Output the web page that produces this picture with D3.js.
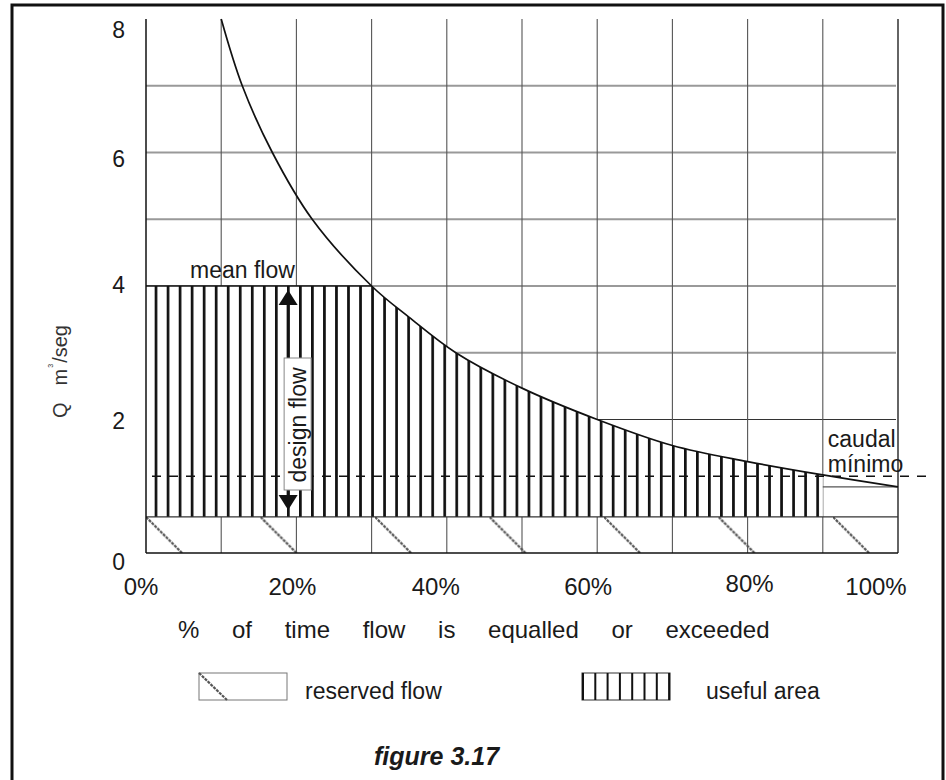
<!DOCTYPE html>
<html>
<head>
<meta charset="utf-8">
<script src="https://cdn.jsdelivr.net/npm/d3@7"></script>
<style>
  html, body { margin: 0; padding: 0; background: #fff; }
  svg text { font-family: "Liberation Sans", Arial, Helvetica, sans-serif; fill: #1a1a1a; }
</style>
</head>
<body>
<script>
// ---------- data ----------
const pctTicks = [0, 20, 40, 60, 80, 100];
const qTicks = [0, 2, 4, 6, 8];
const gridPct = [10, 20, 30, 40, 50, 60, 70, 80, 90, 100];
const gridQGray = [3, 4, 5, 6, 7];
const gridQBlack = [2];
const curvePct = [10, 12.8, 16.8, 22.1, 30, 35, 41.2, 50, 60, 70, 80, 90, 100];
const curveQ   = [8.0, 7.0, 6.0, 5.0, 4.0, 3.53, 3.0, 2.47, 2.0, 1.61, 1.37, 1.17, 0.99];
const meanFlow = 4;
const reservedFlow = 0.54;
const minFlow = 1.15;
const usefulEndPct = 90;
const designPct = 18.9;
const xTitleText = "% of time flow is equalled or exceeded";
const legendLabels = ["reserved flow", "useful area"];
const figureLabel = "figure 3.17";

// ---------- setup ----------
const W = 946, H = 780;
const svg = d3.select("body").append("svg").attr("width", W).attr("height", H);

const x = d3.scaleLinear().domain([0, 100]).range([146, 898]);
const y = d3.scaleLinear().domain([0, 8]).range([553, 19]);

const defs = svg.append("defs");
// vertical hatch pattern (useful area)
const vp = defs.append("pattern").attr("id", "vhatch")
  .attr("patternUnits", "userSpaceOnUse")
  .attr("x", 156 - 1.35).attr("y", 0).attr("width", 12.03).attr("height", 20);
vp.append("rect").attr("x", 0).attr("y", 0).attr("width", 12.03).attr("height", 20).attr("fill", "#fff");
vp.append("rect").attr("x", 0).attr("y", 0).attr("width", 2.7).attr("height", 20).attr("fill", "#111");

// diagonal pattern (reserved flow)
const bandTop = y(reservedFlow), bandBot = y(0), bandH = bandBot - bandTop;
const dp = defs.append("pattern").attr("id", "dhatch")
  .attr("patternUnits", "userSpaceOnUse")
  .attr("x", x(0)).attr("y", bandTop).attr("width", 114.5).attr("height", bandH);
dp.append("line").attr("x1", 0).attr("y1", 0).attr("x2", bandH).attr("y2", bandH)
  .attr("stroke", "#555").attr("stroke-width", 2.2).attr("stroke-dasharray", "3,1");

// clip for useful area
defs.append("clipPath").attr("id", "usefulClip").append("rect")
  .attr("x", x(0)).attr("y", y(meanFlow))
  .attr("width", x(usefulEndPct) - x(0)).attr("height", y(reservedFlow) - y(meanFlow));

// ---------- frame ----------
svg.append("rect").attr("x", 12).attr("y", 5).attr("width", 931).attr("height", 820)
  .attr("fill", "none").attr("stroke", "#111").attr("stroke-width", 3);

// ---------- grid ----------
svg.append("g").selectAll("line").data(gridQGray).join("line")
  .attr("x1", x(0)).attr("x2", x(100) - 2)
  .attr("y1", d => y(d)).attr("y2", d => y(d))
  .attr("stroke", "#999").attr("stroke-width", 2.2);
svg.append("g").selectAll("line").data(gridQBlack).join("line")
  .attr("x1", x(0)).attr("x2", x(100) - 2)
  .attr("y1", d => y(d)).attr("y2", d => y(d))
  .attr("stroke", "#333").attr("stroke-width", 1);
svg.append("g").selectAll("line").data(gridPct).join("line")
  .attr("x1", d => x(d)).attr("x2", d => x(d))
  .attr("y1", y(8)).attr("y2", y(0))
  .attr("stroke", d => d === 100 ? "#111" : "#555").attr("stroke-width", d => d === 100 ? 1.3 : 1.1);

// ---------- reserved flow band ----------
svg.append("rect").attr("x", x(0)).attr("y", bandTop)
  .attr("width", x(100) - x(0)).attr("height", bandH)
  .attr("fill", "url(#dhatch)");

// ---------- useful area ----------
const pts = curvePct.map((p, i) => [p, curveQ[i]]);
const curveType = d3.curveCatmullRom.alpha(0.5);
const areaGen = d3.area().x(d => x(d[0])).y0(y(reservedFlow)).y1(d => y(d[1])).curve(curveType);
const ua = svg.append("g").attr("clip-path", "url(#usefulClip)");
ua.append("rect").attr("x", x(0)).attr("y", y(meanFlow))
  .attr("width", x(curvePct[0]) - x(0) + 1).attr("height", y(reservedFlow) - y(meanFlow))
  .attr("fill", "url(#vhatch)");
ua.append("path").datum(pts).attr("d", areaGen).attr("fill", "url(#vhatch)");

// box 90%-100%
svg.append("line").attr("x1", x(usefulEndPct)).attr("x2", x(100))
  .attr("y1", y(curveQ[curveQ.length - 1])).attr("y2", y(curveQ[curveQ.length - 1]))
  .attr("stroke", "#555").attr("stroke-width", 1.2);

// mean flow line
svg.append("line").attr("x1", x(0)).attr("x2", x(30))
  .attr("y1", y(meanFlow)).attr("y2", y(meanFlow))
  .attr("stroke", "#111").attr("stroke-width", 1.3);

// reserved top line & axes
svg.append("line").attr("x1", x(0)).attr("x2", x(100))
  .attr("y1", y(reservedFlow)).attr("y2", y(reservedFlow))
  .attr("stroke", "#333").attr("stroke-width", 1.2);
svg.append("line").attr("x1", x(0)).attr("x2", x(100))
  .attr("y1", y(0)).attr("y2", y(0))
  .attr("stroke", "#111").attr("stroke-width", 1.5);
svg.append("line").attr("x1", x(0)).attr("x2", x(0))
  .attr("y1", y(8)).attr("y2", y(0))
  .attr("stroke", "#111").attr("stroke-width", 1.5);

// ---------- flow duration curve ----------
const lineGen = d3.line().x(d => x(d[0])).y(d => y(d[1])).curve(curveType);
svg.append("path").datum(pts).attr("d", lineGen)
  .attr("fill", "none").attr("stroke", "#111").attr("stroke-width", 1.7);

// ---------- caudal minimo dashed line ----------
svg.append("line").attr("x1", x(0) + 6).attr("x2", x(100) + 28)
  .attr("y1", y(minFlow)).attr("y2", y(minFlow))
  .attr("stroke", "#111").attr("stroke-width", 1.4).attr("stroke-dasharray", "9,8");

// ---------- design flow arrow ----------
const ax = x(designPct);
const topTip = y(meanFlow) + 4, botTip = y(reservedFlow) - 7;
svg.append("line").attr("x1", ax).attr("x2", ax).attr("y1", topTip + 10).attr("y2", botTip - 10)
  .attr("stroke", "#111").attr("stroke-width", 3);
svg.append("path").attr("d", `M${ax},${topTip} L${ax - 9.5},${topTip + 15} L${ax + 9.5},${topTip + 15} Z`).attr("fill", "#111");
svg.append("path").attr("d", `M${ax},${botTip} L${ax - 9.5},${botTip - 15} L${ax + 9.5},${botTip - 15} Z`).attr("fill", "#111");
svg.append("rect").attr("x", ax - 4).attr("y", 358).attr("width", 27).attr("height", 132)
  .attr("fill", "#fff").attr("stroke", "#888").attr("stroke-width", 1);
svg.append("text").attr("transform", `translate(${ax + 18},${425}) rotate(-90)`)
  .attr("text-anchor", "middle").style("font-size", "23px").text("design flow");

// ---------- labels ----------
svg.append("text").attr("x", 190).attr("y", 278).style("font-size", "23px").text("mean flow");
const cm = svg.append("text").style("font-size", "23px");
cm.append("tspan").attr("x", x(90) + 5).attr("y", 447).text("caudal");
cm.append("tspan").attr("x", x(90) + 5).attr("y", 472).text("mínimo");

// y tick labels
const yNudge = {0: 17, 2: 9.5, 4: 6.5, 6: 14.5, 8: 19};
svg.append("g").selectAll("text").data(qTicks).join("text")
  .attr("x", 125).attr("y", d => y(d) + yNudge[d])
  .attr("text-anchor", "end").style("font-size", "23px").text(d => d);

// x tick labels
const xNudge = {0: -5, 20: -4, 40: -11, 60: -9, 80: 2, 100: -22};
const xNudgeY = {80: -3};
svg.append("g").selectAll("text").data(pctTicks).join("text")
  .attr("x", d => x(d) + xNudge[d]).attr("y", d => 595 + (xNudgeY[d] || 0))
  .attr("text-anchor", "middle").style("font-size", "24px").text(d => d + "%");

// y title
const yt = svg.append("text").attr("transform", "translate(67,418) rotate(-90)")
  .style("font-size", "20px").style("fill", "#333");
yt.append("tspan").text("Q");
yt.append("tspan").attr("dx", 17).text("m");
yt.append("tspan").attr("dx", 1).attr("dy", -14).style("font-size", "7px").text("3");
yt.append("tspan").attr("dx", 1).attr("dy", 14).text("/seg");

// x title
svg.append("text").attr("x", 178).attr("y", 638)
  .style("font-size", "24px").style("word-spacing", "26px").text(xTitleText);

// legend
svg.append("rect").attr("x", 199).attr("y", 673).attr("width", 88).attr("height", 27)
  .attr("fill", "#fff").attr("stroke", "#777").attr("stroke-width", 1);
svg.append("line").attr("x1", 199).attr("y1", 673).attr("x2", 227).attr("y2", 700)
  .attr("stroke", "#555").attr("stroke-width", 2.2).attr("stroke-dasharray", "3,1");
svg.append("text").attr("x", 305).attr("y", 699).style("font-size", "23px").text(legendLabels[0]);

svg.append("rect").attr("x", 582).attr("y", 673).attr("width", 88).attr("height", 27)
  .attr("fill", "#fff").attr("stroke", "#333").attr("stroke-width", 1);
svg.append("g").selectAll("line").data(d3.range(8)).join("line")
  .attr("x1", i => 583 + i * 12.3).attr("x2", i => 583 + i * 12.3)
  .attr("y1", 673).attr("y2", 700).attr("stroke", "#111").attr("stroke-width", 2);
svg.append("text").attr("x", 706).attr("y", 699).style("font-size", "23px").text(legendLabels[1]);

// figure caption
svg.append("text").attr("x", 374).attr("y", 765)
  .style("font-size", "25px").style("font-weight", "bold").style("font-style", "italic")
  .text(figureLabel);
</script>
</body>
</html>
